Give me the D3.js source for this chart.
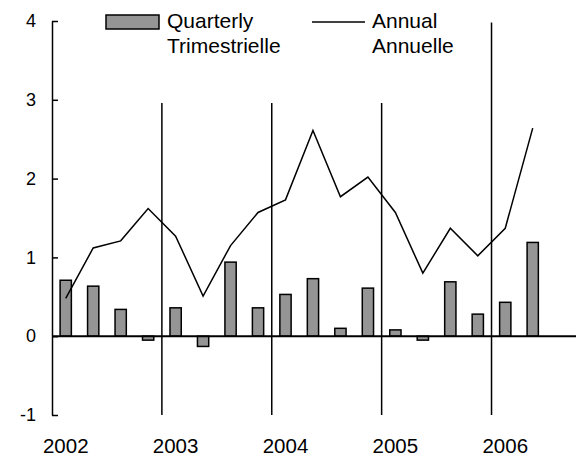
<!DOCTYPE html>
<html>
<head>
<meta charset="utf-8">
<script src="https://cdn.jsdelivr.net/npm/d3@7"></script>
<style>
  html, body { margin: 0; padding: 0; background: #fff; }
  svg { display: block; }
  text { font-family: "Liberation Sans", Arial, sans-serif; fill: #000; }
</style>
</head>
<body>
<script>
// ---- data ----
const quarters = [];
const years = ["2002", "2003", "2004", "2005", "2006"];
years.forEach(y => ["Q1", "Q2", "Q3", "Q4"].forEach(q => quarters.push(y + q)));
const quarterly = [0.71, 0.635, 0.34, -0.05, 0.36, -0.13, 0.94, 0.36, 0.53, 0.73, 0.10, 0.61, 0.08, -0.05, 0.69, 0.28, 0.43, 1.19];
const annual = [0.48, 1.12, 1.21, 1.62, 1.27, 0.51, 1.15, 1.57, 1.73, 2.61, 1.77, 2.02, 1.57, 0.80, 1.37, 1.02, 1.37, 2.64];
const yTicks = [-1, 0, 1, 2, 3, 4];
const separatorYears = ["2003", "2004", "2005", "2006"];
const separatorTops = [2.96, 2.96, 2.96, 3.98];
const legendLabels = [["Quarterly", "Trimestrielle"], ["Annual", "Annuelle"]];

// ---- chart ----
const W = 576, H = 458;
const svg = d3.select("body").append("svg").attr("width", W).attr("height", H);

const x = d3.scaleBand().domain(quarters).range([52, 52 + 20 * 27.47]).padding(0);
const y = d3.scaleLinear().domain([-1, 4]).range([415, 21]);
const barW = x.bandwidth() * 0.41;

// separator lines
svg.append("g").selectAll("line").data(separatorYears).join("line")
  .attr("x1", d => x(d + "Q1")).attr("x2", d => x(d + "Q1"))
  .attr("y1", y(-1)).attr("y2", (d, i) => y(separatorTops[i]))
  .attr("stroke", "#000").attr("stroke-width", 1.5);

// bars
svg.append("g").selectAll("rect").data(quarterly).join("rect")
  .attr("x", (d, i) => x(quarters[i]) + x.bandwidth() / 2 - barW / 2)
  .attr("width", barW)
  .attr("y", d => y(Math.max(0, d)))
  .attr("height", d => Math.abs(y(d) - y(0)))
  .attr("fill", "#959595").attr("stroke", "#000").attr("stroke-width", 1.5);

// zero line
svg.append("line")
  .attr("x1", x.range()[0]).attr("x2", W)
  .attr("y1", y(0)).attr("y2", y(0))
  .attr("stroke", "#000").attr("stroke-width", 2);

// annual line
const line = d3.line().x((d, i) => x(quarters[i]) + x.bandwidth() / 2).y(d => y(d));
svg.append("path").datum(annual).attr("d", line)
  .attr("fill", "none").attr("stroke", "#000").attr("stroke-width", 1.5);

// y axis
const yAxis = d3.axisLeft(y).tickValues(yTicks).tickFormat(d => String(d))
  .tickSizeInner(-6).tickSizeOuter(0).tickPadding(16);
const ga = svg.append("g").attr("transform", `translate(${x.range()[0]},0)`).call(yAxis);
ga.select(".domain").attr("stroke", "#000").attr("stroke-width", 1.5);
ga.selectAll(".tick line").attr("stroke", "#000").attr("stroke-width", 1.5);
ga.selectAll(".tick text").attr("font-size", 18).attr("font-family", "Liberation Sans, Arial, sans-serif").attr("fill", "#000");

// year labels
svg.append("g").selectAll("text").data(years).join("text")
  .attr("x", d => x(d + "Q1") + x.bandwidth() / 2)
  .attr("y", 453)
  .attr("text-anchor", "middle").attr("font-size", 20.5)
  .text(d => d);

// legend
const lg = svg.append("g");
lg.append("rect").attr("x", 106).attr("y", 15).attr("width", 53).attr("height", 14)
  .attr("fill", "#959595").attr("stroke", "#000").attr("stroke-width", 1.5);
lg.append("line").attr("x1", 312).attr("x2", 365).attr("y1", 22).attr("y2", 22)
  .attr("stroke", "#000").attr("stroke-width", 1.5);
[167, 372].forEach((lx, i) => {
  legendLabels[i].forEach((t, j) => {
    lg.append("text").attr("x", lx).attr("y", 28 + j * 25).attr("font-size", 21).text(t);
  });
});
</script>
</body>
</html>
